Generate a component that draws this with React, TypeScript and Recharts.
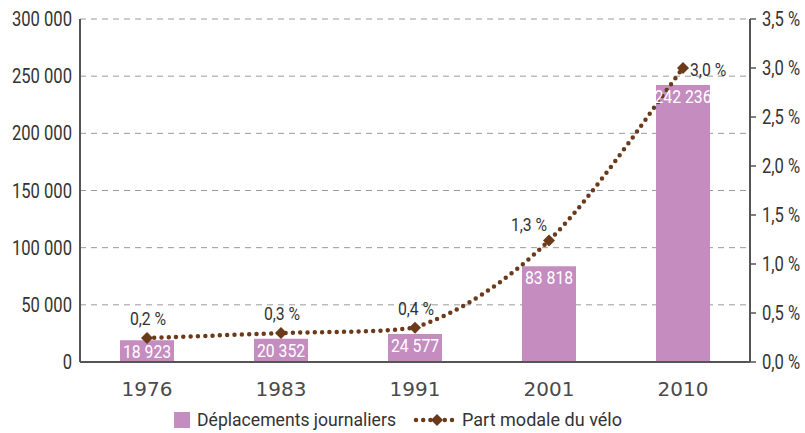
import {
  ComposedChart,
  Bar,
  Line,
  XAxis,
  YAxis,
  CartesianGrid,
  LabelList,
  Legend,
} from 'recharts'

const years = ['1976', '1983', '1991', '2001', '2010']
const trips = [18923, 20352, 24577, 83818, 242236]
const share = [0.245, 0.295, 0.35, 1.24, 3.0]
const shareLabels = ['0,2 %', '0,3 %', '0,4 %', '1,3 %', '3,0 %']
const leftTicks = [0, 50000, 100000, 150000, 200000, 250000, 300000]
const rightTicks = [0, 0.5, 1, 1.5, 2, 2.5, 3, 3.5]

const BAR_COLOR = '#C48CBF'
const LINE_COLOR = '#6B3A1A'
const AXIS_COLOR = '#555555'
const TEXT_COLOR = '#333333'
const FONT = 'Roboto, sans-serif'
const SQUEEZE = 0.83

const data = years.map((y, i) => ({ year: y, trips: trips[i], share: share[i], label: shareLabels[i] }))

const spaced = (n: number) => String(n).replace(/\B(?=(\d{3})+(?!\d))/g, ' ')
const pct = (v: number) => v.toFixed(1).replace('.', ',') + ' %'

const clamp = (v: number, a: number, b: number) => Math.min(Math.max(v, Math.min(a, b)), Math.max(a, b))

// Excel-like smoothed line (Catmull-Rom, control points kept inside each segment so it never dips)
function smoothCurve(context: any) {
  let pts: [number, number][] = []
  return {
    areaStart() {},
    areaEnd() {},
    lineStart() {
      pts = []
    },
    point(x: number, y: number) {
      pts.push([+x, +y])
    },
    lineEnd() {
      if (!pts.length) return
      context.moveTo(pts[0][0], pts[0][1])
      for (let i = 0; i < pts.length - 1; i++) {
        const p0 = pts[Math.max(i - 1, 0)]
        const p1 = pts[i]
        const p2 = pts[i + 1]
        const p3 = pts[Math.min(i + 2, pts.length - 1)]
        context.bezierCurveTo(
          p1[0] + (p2[0] - p0[0]) / 6,
          clamp(p1[1] + (p2[1] - p0[1]) / 6, p1[1], p2[1]),
          p2[0] - (p3[0] - p1[0]) / 6,
          clamp(p2[1] - (p3[1] - p1[1]) / 6, p1[1], p2[1]),
          p2[0],
          p2[1]
        )
      }
    },
  }
}

// condensed look: the reference uses a narrow font, so Roboto is squeezed horizontally
function NarrowText({ x, y, anchor = 'middle', fill = TEXT_COLOR, size = 20, dy, children }: any) {
  return (
    <g transform={`translate(${x},${y})`}>
      <text transform={`scale(${SQUEEZE},1)`} textAnchor={anchor} fill={fill} fontSize={size} fontFamily={FONT} dy={dy}>
        {children}
      </text>
    </g>
  )
}

function LeftTick(props: any) {
  const { x, y, payload } = props
  return <NarrowText x={x} y={y} anchor="end" dy="0.355em">{spaced(payload.value)}</NarrowText>
}

function RightTick(props: any) {
  const { x, y, payload } = props
  return <NarrowText x={x} y={y} anchor="start" dy="0.355em">{pct(payload.value)}</NarrowText>
}

function Diamond({ cx, cy, r = 6 }: { cx?: number; cy?: number; r?: number }) {
  if (cx == null || cy == null) return null
  return (
    <polygon
      points={`${cx},${cy - r} ${cx + r},${cy} ${cx},${cy + r} ${cx - r},${cy}`}
      fill={LINE_COLOR}
    />
  )
}

function ShareLabel(props: any) {
  const { x, y, index, value } = props
  if (x == null || y == null) return null
  let tx = x + 1
  let ty = y - 13
  let anchor = 'middle'
  if (index === years.length - 1) {
    tx = x + 7
    ty = y + 8
    anchor = 'start'
  } else if (index === years.length - 2) {
    tx = x - 20
    ty = y - 9
  }
  return <NarrowText x={tx} y={ty} anchor={anchor} size={19}>{value}</NarrowText>
}

function BarLabel(props: any) {
  const { x, y, width, value } = props
  if (x == null || y == null) return null
  return <NarrowText x={x + width / 2} y={y + 18} fill="#fff" size={19}>{spaced(value)}</NarrowText>
}

function LegendContent() {
  return (
    <svg width={805} height={31} style={{ display: 'block' }}>
      <rect x={174} y={10} width={16} height={16} fill={BAR_COLOR} />
      <text x={197} y={24} fontSize={19} fontFamily={FONT} fill={TEXT_COLOR} textLength={199} lengthAdjust="spacingAndGlyphs">
        Déplacements journaliers
      </text>
      <line x1={416} y1={18} x2={459} y2={18} stroke={LINE_COLOR} strokeWidth={4.5} strokeDasharray="0 7.2" strokeLinecap="round" />
      <Diamond cx={437} cy={18} r={6} />
      <text x={462} y={24} fontSize={19} fontFamily={FONT} fill={TEXT_COLOR} textLength={160} lengthAdjust="spacingAndGlyphs">
        Part modale du vélo
      </text>
    </svg>
  )
}

export default function App() {
  return (
    <div style={{ position: 'absolute', left: 0, top: 0, background: '#fff' }}>
      <ComposedChart width={805} height={433} data={data} margin={{ top: 19, right: 0, left: 0, bottom: 0 }}>
        <CartesianGrid yAxisId="left" vertical={false} stroke="#9a9a9a" strokeDasharray="6 5" />
        <XAxis
          dataKey="year"
          height={40}
          axisLine={{ stroke: AXIS_COLOR, strokeWidth: 2 }}
          tickLine={false}
          tickMargin={14}
          tick={{ fill: '#4a4a4a', fontSize: 20, fontFamily: '"DejaVu Sans", sans-serif' }}
        />
        <YAxis
          yAxisId="left"
          width={80}
          domain={[0, 300000]}
          ticks={leftTicks}
          interval={0}
          axisLine={{ stroke: AXIS_COLOR, strokeWidth: 2 }}
          tickLine={false}
          tick={<LeftTick />}
        />
        <YAxis
          yAxisId="right"
          orientation="right"
          width={55}
          domain={[0, 3.5]}
          ticks={rightTicks}
          interval={0}
          axisLine={{ stroke: AXIS_COLOR, strokeWidth: 2 }}
          tickLine={{ stroke: AXIS_COLOR, strokeWidth: 1.5 }}
          tickSize={6}
          tickMargin={6}
          tick={<RightTick />}
        />
        <Legend verticalAlign="bottom" height={31} content={<LegendContent />} wrapperStyle={{ left: 0, width: 805 }} />
        <Bar yAxisId="left" dataKey="trips" fill={BAR_COLOR} barSize={54} isAnimationActive={false}>
          <LabelList dataKey="trips" content={<BarLabel />} />
        </Bar>
        <Line
          yAxisId="right"
          type={smoothCurve as any}
          dataKey="share"
          stroke={LINE_COLOR}
          strokeWidth={4.5}
          strokeDasharray="0 7.3"
          strokeLinecap="round"
          dot={(p: any) => <Diamond key={p.index} cx={p.cx} cy={p.cy} />}
          activeDot={false}
          isAnimationActive={false}
        >
          <LabelList dataKey="label" content={<ShareLabel />} />
        </Line>
      </ComposedChart>
    </div>
  )
}
